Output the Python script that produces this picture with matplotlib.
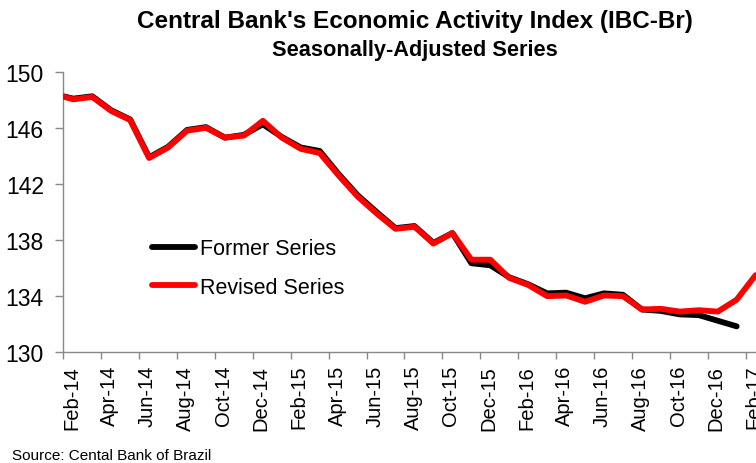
import matplotlib
matplotlib.use("Agg")
import matplotlib.pyplot as plt
import numpy as np

plt.rcParams['font.family'] = ['Liberation Sans', 'DejaVu Sans']

# monthly data, Jan-14 .. Feb-17 (first point sits left of the visible axis)
months = ['Jan-14', 'Feb-14', 'Mar-14', 'Apr-14', 'May-14', 'Jun-14', 'Jul-14', 'Aug-14',
          'Sep-14', 'Oct-14', 'Nov-14', 'Dec-14', 'Jan-15', 'Feb-15', 'Mar-15', 'Apr-15',
          'May-15', 'Jun-15', 'Jul-15', 'Aug-15', 'Sep-15', 'Oct-15', 'Nov-15', 'Dec-15',
          'Jan-16', 'Feb-16', 'Mar-16', 'Apr-16', 'May-16', 'Jun-16', 'Jul-16', 'Aug-16',
          'Sep-16', 'Oct-16', 'Nov-16', 'Dec-16', 'Jan-17', 'Feb-17']

revised = [148.4, 148.03, 148.2, 147.2, 146.55, 143.85, 144.6, 145.8,
           146.0, 145.3, 145.45, 146.5, 145.3, 144.5, 144.2, 142.6,
           141.1, 139.9, 138.8, 138.95, 137.75, 138.5, 136.6, 136.6,
           135.3, 134.8, 134.0, 134.05, 133.6, 134.05, 134.0, 133.05,
           133.1, 132.9, 133.0, 132.9, 133.75, 135.5]

former = [148.4, 148.08, 148.25, 147.25, 146.6, 143.9, 144.65, 145.85,
          146.05, 145.3, 145.5, 146.25, 145.35, 144.6, 144.35, 142.7,
          141.2, 140.0, 138.85, 139.0, 137.8, 138.5, 136.35, 136.2,
          135.35, 134.85, 134.2, 134.25, 133.85, 134.2, 134.1, 133.05,
          132.95, 132.7, 132.65, 132.25, 131.85]

tick_labels = ['Feb-14', 'Apr-14', 'Jun-14', 'Aug-14', 'Oct-14', 'Dec-14', 'Feb-15',
               'Apr-15', 'Jun-15', 'Aug-15', 'Oct-15', 'Dec-15', 'Feb-16', 'Apr-16',
               'Jun-16', 'Aug-16', 'Oct-16', 'Dec-16', 'Feb-17']

# points plotted mid-month, Feb-14 tick at 0
x_rev = np.arange(len(revised)) - 0.47
x_for = np.arange(len(former)) - 0.47
tick_pos = np.arange(len(tick_labels)) * 2
label_pos = tick_pos + 0.45

fig = plt.figure(figsize=(7.56, 4.64), dpi=100)
ax = fig.add_axes([0.0837, 0.2386, 1 - 0.0837, 0.6047])

ax.plot(x_for, former, color='black', lw=4.2, solid_joinstyle='round',
        solid_capstyle='round', label='Former Series', zorder=2)
ax.plot(x_rev, revised, color='#ff0000', lw=4.2, solid_joinstyle='round',
        solid_capstyle='round', label='Revised Series', zorder=3)

ax.set_xlim(0, 36.55)
ax.set_ylim(130, 150)
ax.set_yticks([130, 134, 138, 142, 146, 150])

ax.set_xticks(tick_pos)
ax.set_xticklabels([])
ax.set_xticks(label_pos, tick_labels, minor=True, rotation=90)
ax.tick_params(axis='x', which='major', length=5, color='#888888', width=1)
ax.tick_params(axis='x', which='minor', length=0, pad=9, labelsize=14.5)
ax.tick_params(axis='y', length=6, color='#888888', width=1, labelsize=16.5, pad=8)

for s in ['top', 'right']:
    ax.spines[s].set_visible(False)
for s in ['left', 'bottom']:
    ax.spines[s].set_color('#888888')
    ax.spines[s].set_linewidth(1)

ax.legend(frameon=False, fontsize=15.5, handlelength=2.0, handletextpad=0.25,
          labelspacing=0.8, loc='upper left', bbox_to_anchor=(0.10, 0.475))

fig.text(0.549, 0.953, "Central Bank's Economic Activity Index (IBC-Br)",
         ha='center', va='center', fontsize=17.5, fontweight='bold')
fig.text(0.549, 0.892, 'Seasonally-Adjusted Series',
         ha='center', va='center', fontsize=15.7, fontweight='bold')
fig.text(0.016, 0.017, 'Source: Cental Bank of Brazil', ha='left', va='center',
         fontsize=11, family=['Liberation Sans Narrow', 'Liberation Sans'])

fig.savefig('out.png', dpi=100)
